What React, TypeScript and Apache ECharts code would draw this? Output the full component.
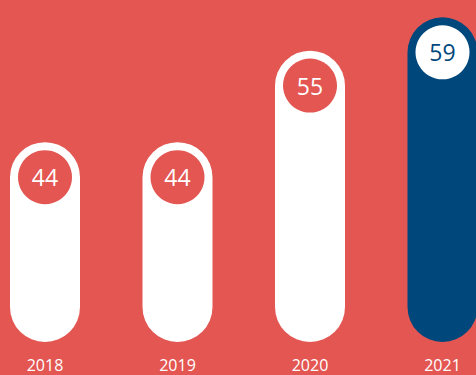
import React, { useEffect, useRef } from "react";
import * as echarts from "echarts";

const years = ["2018", "2019", "2020", "2021"];
const values = [44, 44, 55, 59];
const highlightYear = "2021";

const RED = "#E35652";
const BLUE = "#00477C";
const WHITE = "#FFFFFF";

export default function App() {
  const ref = useRef<HTMLDivElement>(null);
  useEffect(() => {
    document.body.style.margin = "0";
    const chart = echarts.init(ref.current!, null, { renderer: "svg" });
    const barData = values.map((v, i) => ({
      value: v,
      itemStyle: { color: years[i] === highlightYear ? BLUE : WHITE },
    }));
    const dotData = values.map((v, i) => {
      const hi = years[i] === highlightYear;
      return {
        value: v,
        itemStyle: { color: hi ? WHITE : RED, opacity: 1 },
        label: { color: hi ? BLUE : WHITE },
      };
    });
    chart.setOption({
      animation: false,
      backgroundColor: RED,
      grid: {
        left: -21.25,
        width: 530,
        top: 9,
        bottom: 33,
        outerBoundsMode: "none",
        containLabel: false,
      },
      xAxis: {
        type: "category",
        data: years,
        axisLine: { show: false },
        axisTick: { show: false },
        axisLabel: {
          color: WHITE,
          fontFamily: "Open Sans",
          fontSize: 16,
          margin: 15,
        },
      },
      yAxis: {
        type: "value",
        min: 20,
        max: 60,
        show: false,
        splitLine: { show: false },
      },
      series: [
        {
          type: "bar",
          data: barData,
          barWidth: 70,
          itemStyle: { borderRadius: 35 },
          z: 1,
        },
        {
          type: "scatter",
          data: dotData,
          symbol: "circle",
          symbolSize: 54,
          symbolOffset: [0, 35],
          z: 3,
          emphasis: { disabled: true },
          label: {
            show: true,
            position: "inside",
            formatter: "{c}",
            fontFamily: "Open Sans",
            fontSize: 23,
          },
        },
      ],
    });
    return () => chart.dispose();
  }, []);
  return <div ref={ref} style={{ width: 476, height: 375 }} />;
}
